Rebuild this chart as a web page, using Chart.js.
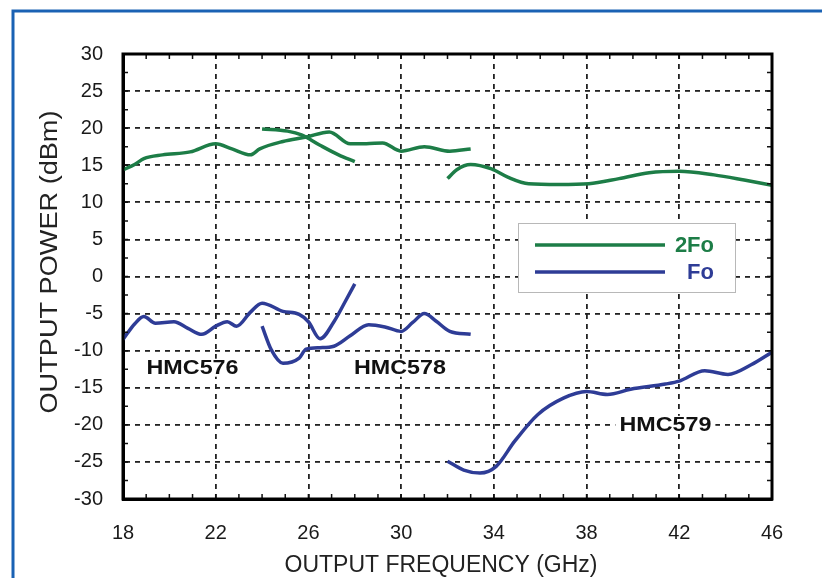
<!DOCTYPE html>
<html>
<head>
<meta charset="utf-8">
<script src="https://cdn.jsdelivr.net/npm/chart.js@4.4.0/dist/chart.umd.min.js"></script>
<style>
html, body { margin: 0; padding: 0; background: #fff; }
#wrap { width: 822px; height: 578px; }
</style>
</head>
<body>
<div id="wrap"><canvas id="powerChart" width="822" height="578"></canvas></div>
<script>
// tick labels
const xTickValues = [18, 22, 26, 30, 34, 38, 42, 46];
const yTickValues = [-30, -25, -20, -15, -10, -5, 0, 5, 10, 15, 20, 25, 30];

// 2Fo curves (green)
const twoFoLongX = [18.0, 18.5, 18.9, 19.7, 20.9, 22.0, 22.7, 23.5, 23.9, 24.9, 25.9, 26.9, 27.8, 28.5, 29.2, 30.0, 31.0, 32.1, 33.0];
const twoFoLongY = [14.4, 15.1, 15.9, 16.4, 16.8, 17.9, 17.2, 16.4, 17.2, 18.2, 18.8, 19.5, 17.9, 17.9, 18.0, 16.9, 17.5, 16.9, 17.2];
const twoFoShortX = [24.0, 25.1, 25.7, 26.5, 27.3, 28.0];
const twoFoShortY = [19.9, 19.6, 19.1, 17.7, 16.4, 15.5];
const twoFo579X = [32.0, 32.4, 33.0, 33.9, 34.6, 35.5, 36.8, 38.1, 39.4, 40.7, 42.0, 43.5, 44.8, 46.0];
const twoFo579Y = [13.2, 14.4, 15.1, 14.5, 13.4, 12.5, 12.4, 12.5, 13.2, 14.0, 14.2, 13.7, 13.0, 12.3];

// Fo curves (blue)
const fo576X = [18.0, 18.5, 18.9, 19.4, 20.2, 20.8, 21.4, 22.0, 22.5, 22.9, 23.5, 24.0, 24.9, 25.6, 26.0, 26.5, 27.1, 27.6, 28.0];
const fo576Y = [-8.5, -6.4, -5.4, -6.3, -6.1, -7.0, -7.8, -6.7, -6.1, -6.7, -4.8, -3.6, -4.7, -5.1, -6.1, -8.4, -6.1, -3.3, -1.0];
const fo578X = [24.0, 24.4, 24.9, 25.6, 25.9, 26.5, 27.1, 27.8, 28.6, 29.3, 30.0, 30.5, 31.0, 31.5, 32.1, 33.0];
const fo578Y = [-6.7, -9.9, -11.7, -11.0, -9.8, -9.6, -9.4, -8.0, -6.5, -6.8, -7.4, -6.2, -5.0, -6.0, -7.4, -7.8];
const fo579X = [32.0, 32.7, 33.4, 34.1, 34.9, 35.9, 37.0, 38.0, 38.9, 39.9, 41.4, 42.0, 43.1, 44.1, 45.1, 46.0];
const fo579Y = [-24.9, -26.1, -26.5, -25.6, -22.2, -18.6, -16.4, -15.5, -15.9, -15.2, -14.5, -14.1, -12.7, -13.2, -11.9, -10.2];

const partLabels = ["HMC576", "HMC578", "HMC579"];

const green = "#1d7d47";
const blue = "#2e3c96";
const frameBlue = "#1a62b4";
const labelAnchors = [{ x: 21.0, y: -12.3 }, { x: 29.95, y: -12.3 }, { x: 41.4, y: -20.0 }];

function toPoints(xs, ys) {
    return xs.map((x, i) => ({ x: x, y: ys[i] }));
}

function curve(label, xs, ys, color) {
    return {
        label: label,
        data: toPoints(xs, ys),
        borderColor: color,
        backgroundColor: color,
        borderWidth: 3.5,
        pointRadius: 0,
        showLine: true,
        cubicInterpolationMode: "monotone",
        fill: false,
    };
}

function fitText(ctx, text, x, y, width) {
    const w = ctx.measureText(text).width;
    ctx.save();
    ctx.translate(x, y);
    ctx.scale(width / w, 1);
    ctx.fillText(text, 0, 0);
    ctx.restore();
}

const decorPlugin = {
    id: "decor",
    beforeDraw(chart) {
        const ctx = chart.ctx;
        ctx.save();
        ctx.fillStyle = "#fff";
        ctx.fillRect(0, 0, chart.width, chart.height);
        ctx.strokeStyle = frameBlue;
        ctx.lineWidth = 3;
        ctx.beginPath();
        ctx.moveTo(13, chart.height);
        ctx.lineTo(13, 11);
        ctx.lineTo(chart.width, 11);
        ctx.stroke();
        ctx.restore();
    },
    afterDatasetsDraw(chart) {
        const ctx = chart.ctx;
        const area = chart.chartArea;
        const xs = chart.scales.x;
        const ys = chart.scales.y;
        ctx.save();

        // minor ticks, inward
        ctx.strokeStyle = "#111";
        ctx.lineWidth = 1.5;
        ctx.beginPath();
        for (let v = xs.min; v <= xs.max; v += 1) {
            const px = xs.getPixelForValue(v);
            ctx.moveTo(px, area.top);
            ctx.lineTo(px, area.top + 5);
            ctx.moveTo(px, area.bottom);
            ctx.lineTo(px, area.bottom - 5);
        }
        for (let v = ys.min; v <= ys.max; v += 2.5) {
            const py = ys.getPixelForValue(v);
            ctx.moveTo(area.left, py);
            ctx.lineTo(area.left + 5, py);
            ctx.moveTo(area.right, py);
            ctx.lineTo(area.right - 5, py);
        }
        ctx.stroke();

        // plot frame
        ctx.lineWidth = 3;
        ctx.strokeStyle = "#000";
        ctx.strokeRect(area.left, area.top, area.right - area.left, area.bottom - area.top);

        // part labels, on a white patch so grid lines break around them
        ctx.font = "bold 21px 'Liberation Sans', Arial, sans-serif";
        ctx.textAlign = "center";
        ctx.textBaseline = "middle";
        partLabels.forEach((t, i) => {
            const px = xs.getPixelForValue(labelAnchors[i].x);
            const py = ys.getPixelForValue(labelAnchors[i].y);
            ctx.fillStyle = "#fff";
            ctx.fillRect(px - 50, py - 9, 100, 18);
            ctx.fillStyle = "#111";
            fitText(ctx, t, px, py, 92);
        });

        // legend
        ctx.fillStyle = "#fff";
        ctx.fillRect(518, 223, 217, 69);
        ctx.strokeStyle = "#b8b8b8";
        ctx.lineWidth = 1;
        ctx.strokeRect(518.5, 223.5, 217, 69);
        const entries = [["2Fo", green, 245], ["Fo", blue, 272]];
        ctx.lineWidth = 3.5;
        ctx.font = "bold 22px 'Liberation Sans', Arial, sans-serif";
        ctx.textAlign = "right";
        entries.forEach(([name, color, y]) => {
            ctx.strokeStyle = color;
            ctx.beginPath();
            ctx.moveTo(535, y);
            ctx.lineTo(665, y);
            ctx.stroke();
            ctx.fillStyle = color;
            ctx.fillText(name, 714, y + 1);
        });

        // axis titles
        ctx.fillStyle = "#222";
        ctx.font = "23px 'Liberation Sans', Arial, sans-serif";
        ctx.textAlign = "center";
        ctx.textBaseline = "middle";
        fitText(ctx, "OUTPUT FREQUENCY (GHz)", 441, 566, 313);
        ctx.save();
        ctx.translate(51, 262);
        ctx.rotate(-Math.PI / 2);
        fitText(ctx, "OUTPUT POWER (dBm)", 0, 0, 303);
        ctx.restore();

        ctx.restore();
    },
};

const popCanvas = document.getElementById("powerChart");

const powerChart = new Chart(popCanvas, {
    type: "scatter",
    data: {
        datasets: [
            curve("2Fo", twoFoLongX, twoFoLongY, green),
            curve("2Fo b", twoFoShortX, twoFoShortY, green),
            curve("2Fo c", twoFo579X, twoFo579Y, green),
            curve("Fo", fo576X, fo576Y, blue),
            curve("Fo b", fo578X, fo578Y, blue),
            curve("Fo c", fo579X, fo579Y, blue),
        ],
    },
    options: {
        responsive: false,
        animation: false,
        layout: {
            padding: { top: 54, right: 50, left: 0, bottom: 0 },
        },
        plugins: {
            legend: { display: false },
            tooltip: { enabled: false },
        },
        scales: {
            x: {
                type: "linear",
                min: 18,
                max: 46,
                afterBuildTicks: (scale) => {
                    scale.ticks = xTickValues.map((v) => ({ value: v }));
                },
                afterFit: (scale) => {
                    scale.height = 79;
                },
                grid: { color: "#222", lineWidth: 1.8, drawTicks: false },
                border: { display: true, color: "#000", width: 3, dash: [5, 5] },
                ticks: {
                    padding: 22,
                    color: "#1a1a1a",
                    maxRotation: 0,
                    font: { family: "'Liberation Sans', Arial, sans-serif", size: 20 },
                },
            },
            y: {
                type: "linear",
                min: -30,
                max: 30,
                afterBuildTicks: (scale) => {
                    scale.ticks = yTickValues.map((v) => ({ value: v }));
                },
                afterFit: (scale) => {
                    scale.width = 123;
                },
                grid: { color: "#222", lineWidth: 1.8, drawTicks: false },
                border: { display: true, color: "#000", width: 3, dash: [5, 5] },
                ticks: {
                    padding: 20,
                    color: "#1a1a1a",
                    font: { family: "'Liberation Sans', Arial, sans-serif", size: 20 },
                },
            },
        },
    },
    plugins: [decorPlugin],
});
</script>
</body>
</html>
